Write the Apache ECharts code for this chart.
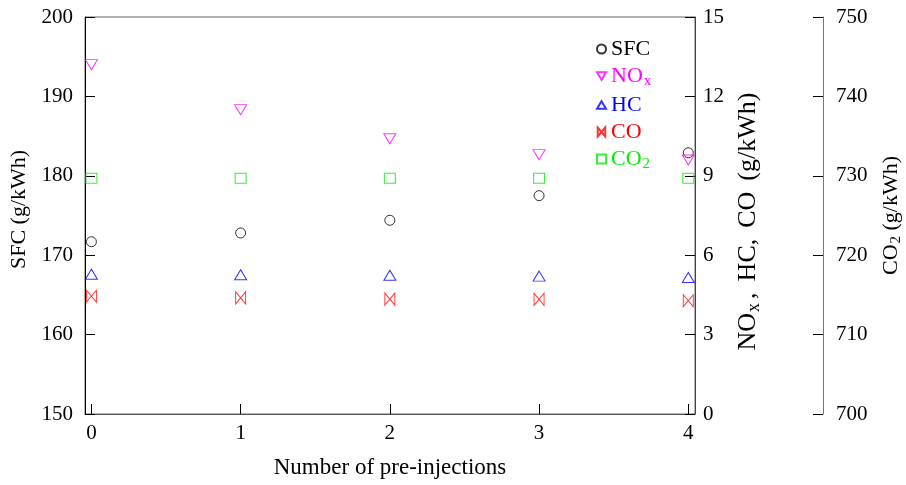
<!DOCTYPE html>
<html>
<head>
<meta charset="utf-8">
<script src="https://cdn.jsdelivr.net/npm/echarts@6/dist/echarts.min.js"></script>
<style>
  html, body { margin: 0; padding: 0; background: #fff; }
  #chart { width: 906px; height: 485px; }
</style>
</head>
<body>
<div id="chart"></div>
<script>
// Engine performance vs. number of pre-injections
const injections = [0, 1, 2, 3, 4];
const sfc = [171.7, 172.8, 174.4, 177.5, 182.9];   // g/kWh, left axis
const nox = [13.2, 11.5, 10.4, 9.8, 9.6];         // g/kWh, middle axis
const hc  = [5.28, 5.26, 5.24, 5.21, 5.16];       // g/kWh, middle axis
const co  = [4.45, 4.39, 4.34, 4.33, 4.28];       // g/kWh, middle axis
const co2 = [729.7, 729.7, 729.7, 729.7, 729.7];  // g/kWh, right axis
const xTicks = [0, 1, 2, 3, 4];

const FONT = 'Liberation Serif';
const pair = (xs, ys) => xs.map((x, i) => [x, ys[i]]);

const hollow = (c) => ({ color: 'rgba(0,0,0,0)', borderColor: c, borderWidth: 1 });
const DOWN_TRI = 'path://M0,0 L12,0 L6,10 Z';
const UP_TRI = 'path://M6,0 L12,10 L0,10 Z';
const BOWTIE = 'path://M0,0 L0,12 L10,0 L10,12 Z';

const C = { sfc: '#000000', nox: '#ff00ff', hc: '#0000ff', co: '#ff0000', co2: '#00ee00' };

const mainStyle = (color, size) => ({ color, fontFamily: FONT, fontSize: size, lineHeight: size + 4 });
const subStyle = (color, size) => ({ color, fontFamily: FONT, fontSize: Math.round(size * 0.7), lineHeight: Math.round(size * 0.7), verticalAlign: 'bottom', padding: [0, 0, 0, 1] });

const chart = echarts.init(document.getElementById('chart'), null, { renderer: 'canvas' });

const tickLabel = (margin) => ({ fontFamily: FONT, fontSize: 21, color: '#000', margin });
const insideTick = { show: true, inside: true, length: 10, lineStyle: { color: '#000' } };

chart.setOption({
  backgroundColor: '#fff',
  animation: false,
  grid: {
    left: 85, right: 211, top: 17, bottom: 71, outerBoundsMode: 'none', containLabel: false,
    show: true, borderColor: '#666', borderWidth: 1
  },
  legend: {
    left: 591, top: 33, orient: 'vertical', itemWidth: 9, itemHeight: 9, itemGap: 5,
    textStyle: {
      fontFamily: FONT, fontSize: 22,
      rich: {
        k: mainStyle(C.sfc, 22), m: mainStyle(C.nox, 22), ms: subStyle(C.nox, 22),
        b: mainStyle(C.hc, 22), r: mainStyle(C.co, 22), g: mainStyle(C.co2, 22), gs: subStyle(C.co2, 22)
      }
    },
    formatter: (name) => ({
      'SFC': '{k|SFC}', 'NOx': '{m|NO}{ms|x}', 'HC': '{b|HC}', 'CO': '{r|CO}', 'CO2': '{g|CO}{gs|2}'
    })[name],
    data: ['SFC', 'NOx', 'HC', 'CO', 'CO2']
  },
  xAxis: {
    type: 'value', min: -0.043, max: 4.045,
    name: 'Number of pre-injections', nameLocation: 'middle', nameGap: 42,
    nameTextStyle: { fontFamily: FONT, fontSize: 23, color: '#000' },
    axisLine: { onZero: false, lineStyle: { color: '#555' } },
    axisTick: Object.assign({}, insideTick, { customValues: xTicks }),
    axisLabel: Object.assign(tickLabel(9), { customValues: xTicks }),
    splitLine: { show: false }
  },
  yAxis: [
    {
      type: 'value', min: 150, max: 200, interval: 10, position: 'left',
      name: 'SFC (g/kWh)', nameLocation: 'middle', nameGap: 52, nameRotate: 90,
      nameTextStyle: { fontFamily: FONT, fontSize: 22, color: '#000', padding: [0, 0, 0, 12] },
      axisLine: { show: true, onZero: false, lineStyle: { color: '#000' } },
      axisTick: insideTick, axisLabel: tickLabel(12), splitLine: { show: false }
    },
    {
      type: 'value', min: 0, max: 15, interval: 3, position: 'right',
      name: '{n|NO}{s|x}{g1|}{n|,}{g|}{n|HC,}{g|}{n|CO}{g|}{n|(g/kWh)}',
      nameLocation: 'middle', nameGap: 35, nameRotate: 90,
      nameTextStyle: {
        padding: [0, 12, 0, 0],
        rich: { n: mainStyle('#000', 26), s: subStyle('#000', 26), g: { width: 11 }, g1: { width: 4 } }
      },
      axisLine: { show: true, onZero: false, lineStyle: { color: '#444' } },
      axisTick: insideTick, axisLabel: tickLabel(8), splitLine: { show: false }
    },
    {
      type: 'value', min: 700, max: 750, interval: 10, position: 'right', offset: 128,
      name: '{n|CO}{s|2}{n| (g/kWh)}', nameLocation: 'middle', nameGap: 55, nameRotate: 90,
      nameTextStyle: { rich: { n: mainStyle('#000', 22), s: subStyle('#000', 22) } },
      axisLine: { show: true, onZero: false, lineStyle: { color: '#777' } },
      axisTick: insideTick, axisLabel: tickLabel(13), splitLine: { show: false }
    }
  ],
  series: [
    { name: 'SFC', type: 'scatter', yAxisIndex: 0, symbol: 'circle', symbolSize: 10,
      itemStyle: hollow(C.sfc), data: pair(injections, sfc) },
    { name: 'NOx', type: 'scatter', yAxisIndex: 1, symbol: DOWN_TRI, symbolSize: [12, 10],
      itemStyle: hollow(C.nox), data: pair(injections, nox) },
    { name: 'HC', type: 'scatter', yAxisIndex: 1, symbol: UP_TRI, symbolSize: [12, 10],
      itemStyle: hollow(C.hc), data: pair(injections, hc) },
    { name: 'CO', type: 'scatter', yAxisIndex: 1, symbol: BOWTIE, symbolSize: [10, 12],
      itemStyle: hollow(C.co), data: pair(injections, co) },
    { name: 'CO2', type: 'scatter', yAxisIndex: 2, symbol: 'rect', symbolSize: [11, 10],
      itemStyle: hollow(C.co2), data: pair(injections, co2) }
  ]
});
</script>
</body>
</html>
